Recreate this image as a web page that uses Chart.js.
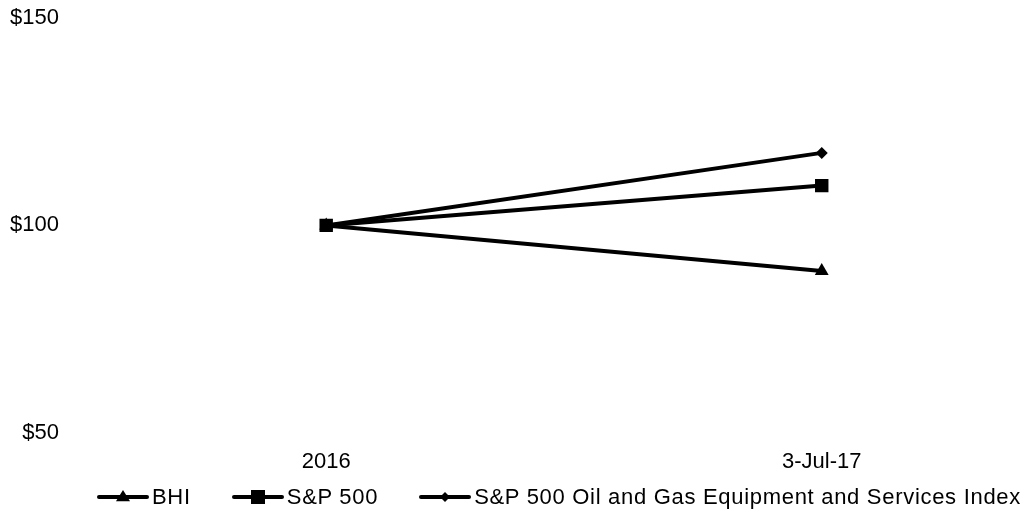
<!DOCTYPE html>
<html>
<head>
<meta charset="utf-8">
<script src="https://cdn.jsdelivr.net/npm/chart.js@4.4.1/dist/chart.umd.min.js"></script>
<style>
  html, body { margin: 0; padding: 0; background: #fff; overflow: hidden; }
  #wrap { position: relative; width: 1024px; height: 513px; overflow: hidden; }
  #plot { position: absolute; left: 0; top: -5px; width: 1024px; height: 518px; }
  #legend {
    position: absolute; left: 97px; top: 485px; height: 24px;
    display: flex; align-items: center; gap: 41px;
    font: 22px "Liberation Sans", Arial, sans-serif; letter-spacing: 0.7px; color: #000;
  }
  #legend .item { display: flex; align-items: center; gap: 3px; white-space: nowrap; }
</style>
</head>
<body>
<div id="wrap">
  <div id="plot"><canvas id="chart"></canvas></div>
  <div id="legend"></div>
</div>
<script>
  // values (indexed to $100)
  const categories = ['2016', '3-Jul-17'];
  const bhi = [100, 89];
  const sp500 = [100, 109.6];
  const oilGas = [100, 117.5];
  const yTicks = [50, 100, 150];

  const FONT = '"Liberation Sans", Arial, sans-serif';

  const series = [
    { label: 'BHI', data: bhi, style: 'triangle', r: 8, lg: 7, order: 1 },
    { label: 'S&P 500', data: sp500, style: 'rect', r: 9.5, lg: 7, order: 0 },
    { label: 'S&P 500 Oil and Gas Equipment and Services Index', data: oilGas, style: 'rectRot', r: 6, lg: 5, order: 2 }
  ];

  // legend swatch: thick line with the marker in the middle
  function swatch(style, size) {
    const c = document.createElement('canvas');
    c.width = 52; c.height = 18;
    const g = c.getContext('2d');
    g.strokeStyle = '#000'; g.fillStyle = '#000'; g.lineWidth = 4; g.lineCap = 'round';
    g.beginPath(); g.moveTo(2, 9); g.lineTo(50, 9); g.stroke();
    g.beginPath();
    if (style === 'triangle') {
      g.moveTo(26, 9 - size); g.lineTo(26 + size, 9 + size * 0.6); g.lineTo(26 - size, 9 + size * 0.6);
    } else if (style === 'rect') {
      g.rect(26 - size, 9 - size, size * 2, size * 2);
    } else {
      g.moveTo(26, 9 - size); g.lineTo(26 + size, 9); g.lineTo(26, 9 + size); g.lineTo(26 - size, 9);
    }
    g.closePath(); g.fill();
    return c;
  }

  const legendEl = document.getElementById('legend');
  series.forEach(s => {
    const item = document.createElement('div');
    item.className = 'item';
    item.appendChild(swatch(s.style, s.lg));
    const t = document.createElement('span');
    t.textContent = s.label;
    item.appendChild(t);
    legendEl.appendChild(item);
  });

  new Chart(document.getElementById('chart'), {
    type: 'line',
    data: {
      datasets: series.map(s => ({
        label: s.label,
        data: s.data.map((v, i) => ({ x: i, y: v })),
        order: s.order,
        borderColor: '#000',
        backgroundColor: '#000',
        borderWidth: 4,
        pointStyle: s.style,
        pointRadius: s.r,
        pointHoverRadius: s.r,
        pointBorderWidth: 0
      }))
    },
    options: {
      responsive: true,
      maintainAspectRatio: false,
      animation: false,
      layout: { padding: { top: 0, right: 10, left: 0, bottom: 30 } },
      scales: {
        x: {
          type: 'linear',
          min: -0.503,
          max: 1.388,
          grid: { display: false },
          border: { display: false },
          afterBuildTicks: axis => { axis.ticks = categories.map((c, i) => ({ value: i })); },
          ticks: {
            color: '#000',
            font: { family: FONT, size: 22 },
            padding: 8,
            maxRotation: 0,
            callback: v => categories[v]
          }
        },
        y: {
          min: 50,
          max: 150,
          grid: { display: false },
          border: { display: false },
          afterBuildTicks: axis => { axis.ticks = yTicks.map(v => ({ value: v })); },
          ticks: {
            color: '#000',
            font: { family: FONT, size: 22 },
            padding: 10,
            callback: v => '$' + v
          }
        }
      },
      plugins: {
        tooltip: { enabled: false },
        legend: { display: false }
      }
    }
  });
</script>
</body>
</html>
